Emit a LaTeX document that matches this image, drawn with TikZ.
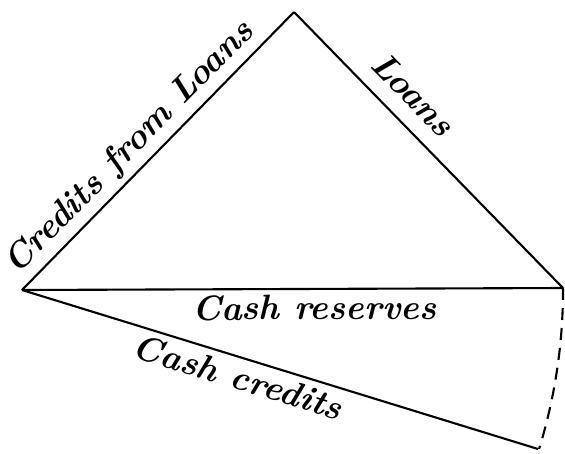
\documentclass[tikz,border=0pt]{standalone}
\newcommand{\scriptface}{\bfseries\itshape\fontsize{20}{24}\selectfont}
\tikzset{edge/.style={line width=1.2pt},
  side label/.style={font=\scriptface,sloped,inner sep=0pt}}

\begin{document}
\begin{tikzpicture}
\useasboundingbox (0,0) rectangle (11.30,-9.06);
\coordinate (apex) at (5.88,-0.24);
\coordinate (left) at (0.44,-5.80);
\coordinate (right) at (11.26,-5.76);
\coordinate (bottom) at (10.76,-8.98);
\draw[edge] (left) -- (apex) node[side label,pos=0.455,above=0.1cm] (credloans) {Credits from Loans};
\draw[edge] (apex) -- (right) node[side label,pos=0.37,above=0.3cm] (loans) {Loans};
\draw[edge] (left) -- (right) node[side label,pos=0.54,below=0.1cm] (reserves) {Cash reserves};
\draw[edge] (left) -- (bottom) node[side label,pos=0.43,below=0.12cm] (cashcred) {Cash credits};
\draw[edge,dash pattern=on 0.24cm off 0.16cm] (right) arc[start angle=0.2,end angle=-17.1,radius=10.82];
\end{tikzpicture}
\end{document}
